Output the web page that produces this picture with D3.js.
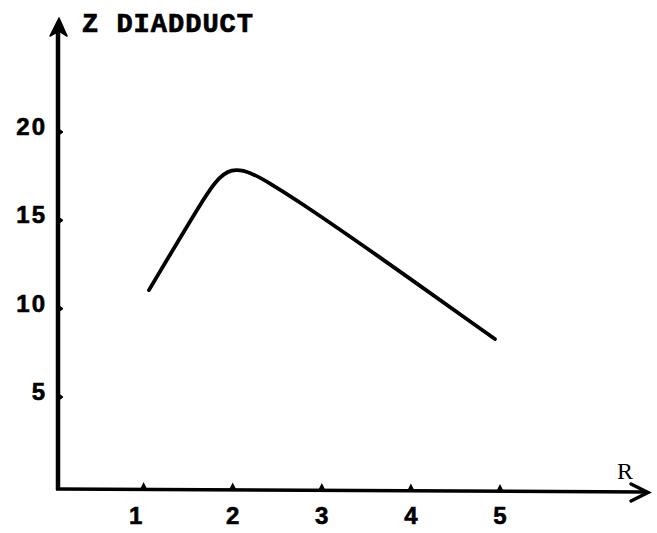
<!DOCTYPE html>
<html>
<head>
<meta charset="utf-8">
<script src="https://cdn.jsdelivr.net/npm/d3@7"></script>
<style>
  html, body { margin: 0; padding: 0; background: #fff; }
  svg { display: block; }
</style>
</head>
<body>
<script>
// Percentage of diadduct as a function of the ratio R
// (control points of the smoothed curve; the peak is rounded by the spline)
const rValues    = [1.06, 1.65, 1.96, 2.45, 2.754, 3.54, 4.943];
const diadduct   = [11.05, 16.05, 18.45, 17.0, 16.03, 13.32, 8.28];
const xTicks     = [1, 2, 3, 4, 5];
const yTicks     = [5, 10, 15, 20];
const yAxisTitle = "Z DIADDUCT";
const xAxisTitle = "R";

const W = 657, H = 533;
const svg = d3.select("body").append("svg")
  .attr("width", W).attr("height", H);

const x = d3.scaleLinear().domain([1, 5]).range([143.6, 500]);
const y = d3.scaleLinear().domain([5, 20]).range([397, 132]);

const axisX = 58;     // position of vertical axis
const axisY = 489;    // position of horizontal axis
const ink = "#000";
const mono = "'Liberation Mono', 'DejaVu Sans Mono', monospace";
const digits = "'Liberation Sans', Arimo, Arial, sans-serif";

// vertical axis with arrow head
svg.append("line")
  .attr("x1", axisX).attr("y1", axisY + 1)
  .attr("x2", axisX).attr("y2", 30)
  .attr("stroke", ink).attr("stroke-width", 4.5);
svg.append("path")
  .attr("d", `M${axisX + 1},18 L${axisX - 8},36 L${axisX + 1},31 L${axisX + 9},36 Z`)
  .attr("fill", ink).attr("stroke", ink).attr("stroke-width", 1.5)
  .attr("stroke-linejoin", "round");

// horizontal axis with arrow head
svg.append("line")
  .attr("x1", axisX - 2).attr("y1", axisY)
  .attr("x2", 646).attr("y2", axisY + 3)
  .attr("stroke", ink).attr("stroke-width", 3.5);
svg.append("path")
  .attr("d", `M631,484 L648,492.5 L631,501`)
  .attr("fill", "none").attr("stroke", ink).attr("stroke-width", 3.5)
  .attr("stroke-linejoin", "miter").attr("stroke-linecap", "round");

// y ticks: small nubs to the right of the axis
svg.append("g").selectAll("path")
  .data(yTicks).join("path")
  .attr("d", d => `M${axisX + 1},${y(d) - 3} L${axisX + 5},${y(d)} L${axisX + 1},${y(d) + 3}`)
  .attr("fill", ink).attr("stroke", ink).attr("stroke-width", 1);

svg.append("g").selectAll("text")
  .data(yTicks).join("text")
  .attr("x", 47).attr("y", d => y(d) + 3)
  .attr("text-anchor", "end")
  .attr("font-family", digits).attr("font-weight", "bold")
  .attr("font-size", 24).attr("letter-spacing", 2).attr("fill", ink)
  .attr("stroke", ink).attr("stroke-width", 0.6)
  .text(d => d);

// x ticks: small bumps above the axis
svg.append("g").selectAll("path")
  .data(xTicks).join("path")
  .attr("d", d => {
    const yy = axisY + (x(d) - axisX) / (646 - axisX) * 3;
    return `M${x(d) - 3},${yy} L${x(d)},${yy - 6} L${x(d) + 3},${yy}`;
  })
  .attr("fill", ink).attr("stroke", ink).attr("stroke-width", 1.2);

svg.append("g").selectAll("text")
  .data(xTicks).join("text")
  .attr("x", d => x(d) - (d === 1 ? 8 : 0)).attr("y", 524)
  .attr("text-anchor", "middle")
  .attr("font-family", digits).attr("font-weight", "bold")
  .attr("font-size", 24).attr("fill", ink)
  .attr("stroke", ink).attr("stroke-width", 0.6)
  .text(d => d);

// axis titles
svg.append("text")
  .attr("x", 82).attr("y", 32)
  .attr("font-family", mono).attr("font-weight", "bold")
  .attr("font-size", 27).attr("letter-spacing", 1).attr("fill", ink)
  .attr("stroke", ink).attr("stroke-width", 0.7)
  .text(yAxisTitle);

svg.append("text")
  .attr("x", 625).attr("y", 479)
  .attr("text-anchor", "middle")
  .attr("font-family", "'Liberation Serif', 'DejaVu Serif', serif")
  .attr("font-size", 24).attr("fill", ink)
  .text(xAxisTitle);

// the curve
const pts = rValues.map((r, i) => [r, diadduct[i]]);
const line = d3.line()
  .x(d => x(d[0])).y(d => y(d[1]))
  .curve(d3.curveBasis);

svg.append("path")
  .datum(pts)
  .attr("d", line)
  .attr("fill", "none").attr("stroke", ink)
  .attr("stroke-width", 3.8)
  .attr("stroke-linecap", "round").attr("stroke-linejoin", "round");
</script>
</body>
</html>
